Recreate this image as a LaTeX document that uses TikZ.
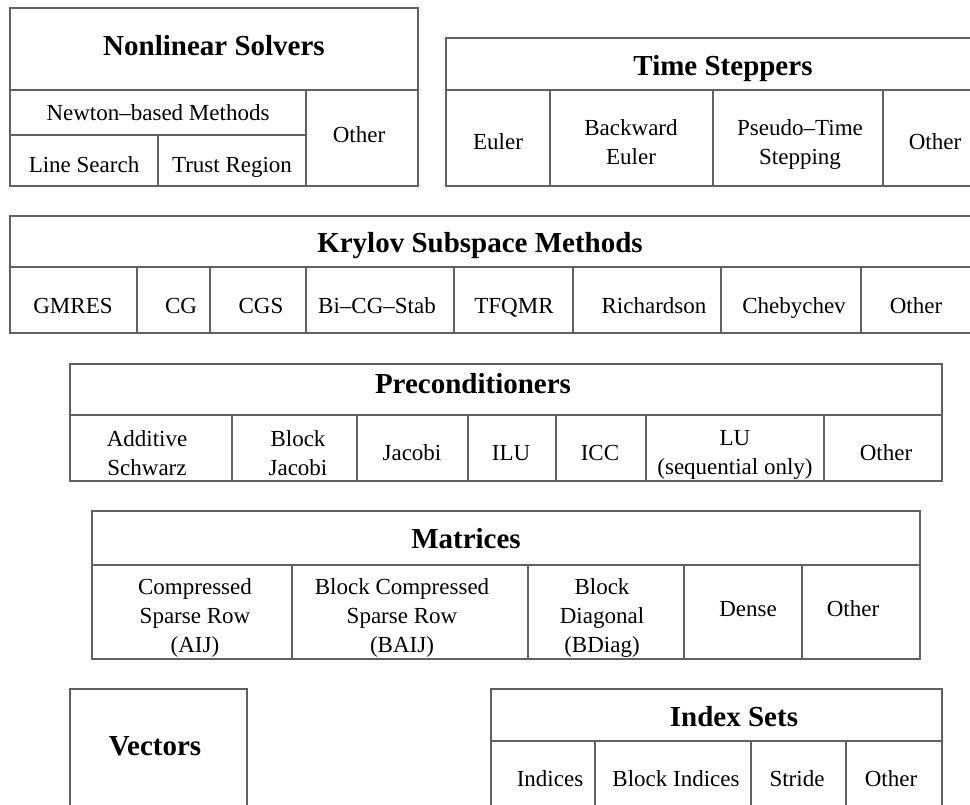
\documentclass[tikz,border=0pt]{standalone}
\usepackage{fontspec}
\setmainfont{Liberation Serif}
\begin{document}
\begin{tikzpicture}[x=1pt,y=-1pt,
  rule/.style={draw=black!62, line width=1.3pt},
  head/.style={font=\fontsize{29}{34}\selectfont\bfseries, anchor=base, inner sep=0pt},
  entry/.style={font=\fontsize{23}{29}\selectfont, anchor=base, inner sep=0pt},
  multi/.style={font=\fontsize{23}{29}\selectfont, align=center, anchor=center, inner sep=0pt}]
\useasboundingbox (0,0) rectangle (970,804);
\clip (0,0) rectangle (970,804);

% ---------------- Nonlinear Solvers ----------------
\draw[rule] (10,8) rectangle (418,186);
\draw[rule] (10,90) -- (418,90);
\draw[rule] (10,135) -- (306,135);
\draw[rule] (306,90) -- (306,186);
\draw[rule] (158,135) -- (158,186);
\node[head]  (nlsTitle)  at (214,55)  {Nonlinear Solvers};
\node[entry] (nlsNewton) at (158,120) {Newton--based Methods};
\node[entry] (nlsLine)   at (84,172)  {Line Search};
\node[entry] (nlsTrust)  at (232,172) {Trust Region};
\node[entry] (nlsOther)  at (359,142) {Other};

% ---------------- Time Steppers ----------------
\draw[rule] (446,38) rectangle (1000,186);
\draw[rule] (446,90) -- (1000,90);
\foreach \x in {550,713,883} \draw[rule] (\x,90) -- (\x,186);
\node[head]  (tsTitle)  at (723,75)  {Time Steppers};
\node[entry] (tsEuler)  at (498,149) {Euler};
\node[multi] (tsBack)   at (631,142) {Backward\\Euler};
\node[multi] (tsPseudo) at (800,144) {Pseudo--Time\\Stepping};
\node[entry] (tsOther)  at (935,149) {Other};

% ---------------- Krylov Subspace Methods ----------------
\draw[rule] (10,216) rectangle (1000,333);
\draw[rule] (10,267) -- (1000,267);
\foreach \x in {137,210,306,454,573,721,861} \draw[rule] (\x,267) -- (\x,333);
\node[head]  (kspTitle) at (480,252) {Krylov Subspace Methods};
\node[entry] (kspGmres) at (73,313)  {GMRES};
\node[entry] (kspCg)    at (181,313) {CG};
\node[entry] (kspCgs)   at (261,313) {CGS};
\node[entry] (kspBicg)  at (377,313) {Bi--CG--Stab};
\node[entry] (kspTfqmr) at (514,313) {TFQMR};
\node[entry] (kspRich)  at (654,313) {Richardson};
\node[entry] (kspCheb)  at (794,313) {Chebychev};
\node[entry] (kspOther) at (916,313) {Other};

% ---------------- Preconditioners ----------------
\draw[rule] (70,364) rectangle (942,481);
\draw[rule] (70,415) -- (942,415);
\foreach \x in {232,357,468,556,646,824} \draw[rule] (\x,415) -- (\x,481);
\node[head]  (pcTitle)  at (473,393) {Preconditioners};
\node[multi] (pcAsm)    at (147,453) {Additive\\Schwarz};
\node[multi] (pcBjac)   at (298,453) {Block\\Jacobi};
\node[entry] (pcJacobi) at (412,460) {Jacobi};
\node[entry] (pcIlu)    at (511,460) {ILU};
\node[entry] (pcIcc)    at (600,460) {ICC};
\node[multi] (pcLu)     at (735,455) {LU\\(sequential only)};
\node[entry] (pcOther)  at (886,460) {Other};

% ---------------- Matrices ----------------
\draw[rule] (92,511) rectangle (920,659);
\draw[rule] (92,565) -- (920,565);
\foreach \x in {292,528,684,802} \draw[rule] (\x,565) -- (\x,659);
\node[head]  (matTitle) at (466,548) {Matrices};
\node[multi] (matAij)   at (195,618) {Compressed\\Sparse Row\\(AIJ)};
\node[multi] (matBaij)  at (402,618) {Block Compressed\\Sparse Row\\(BAIJ)};
\node[multi] (matBdiag) at (602,618) {Block\\Diagonal\\(BDiag)};
\node[entry] (matDense) at (748,616) {Dense};
\node[entry] (matOther) at (853,616) {Other};

% ---------------- Vectors ----------------
\draw[rule] (70,689) rectangle (247,830);
\node[head] (vecTitle) at (155,755) {Vectors};

% ---------------- Index Sets ----------------
\draw[rule] (491,689) rectangle (942,830);
\draw[rule] (491,741) -- (942,741);
\foreach \x in {595,751,846} \draw[rule] (\x,741) -- (\x,830);
\node[head]  (isTitle)   at (734,726) {Index Sets};
\node[entry] (isIndices) at (550,786) {Indices};
\node[entry] (isBlock)   at (676,786) {Block Indices};
\node[entry] (isStride)  at (797,786) {Stride};
\node[entry] (isOther)   at (891,786) {Other};
\end{tikzpicture}
\end{document}
